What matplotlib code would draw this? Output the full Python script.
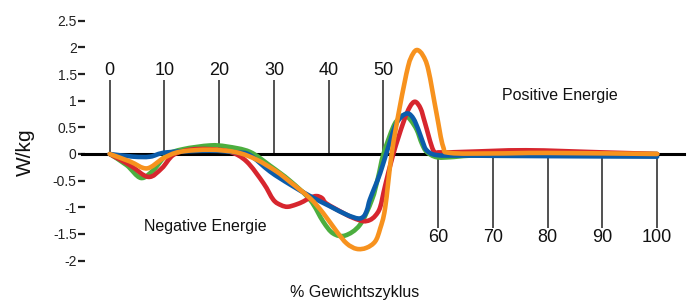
import matplotlib
matplotlib.use("Agg")
import matplotlib.pyplot as plt
import numpy as np
from matplotlib.path import Path
from matplotlib.patches import PathPatch

# curves (% of cycle, W/kg)
x_green = [0, 3.1, 5.7, 8.0, 10.4, 13.4, 18.3, 21.4, 25.6, 29.3, 32.9, 36.6, 39.0, 40.8, 43.0, 45.7,
           47.9, 49.0, 50.0, 51.8, 52.8, 53.9, 55.0, 56.1, 57.0, 57.9, 59.7, 62.2, 66, 75, 100]
y_green = [0, -0.21, -0.45, -0.30, -0.02, 0.09, 0.16, 0.14, 0.04, -0.22, -0.50, -0.86, -1.27, -1.49, -1.53, -1.33,
           -0.86, -0.45, 0.0, 0.51, 0.66, 0.73, 0.63, 0.45, 0.20, 0.04, -0.06, -0.06, -0.03, 0.0, 0.0]

x_red = [0, 3.7, 7.05, 9.5, 11.6, 14.7, 18.3, 22.0, 25.0, 28.1, 29.9, 31.3, 32.5, 34.0, 35.4, 36.6, 37.8, 38.8,
         39.6, 42.7, 44.5, 46.3, 47.5, 48.5, 49.4, 50.3, 51.8, 53.6, 54.8, 55.8, 56.8, 57.6, 59.1, 60.3, 65, 76, 90, 100]
y_red = [0, -0.21, -0.43, -0.27, -0.02, 0.08, 0.09, 0.04, -0.14, -0.55, -0.86, -0.96, -0.99, -0.95, -0.89, -0.82, -0.79, -0.83,
         -0.93, -1.11, -1.20, -1.26, -1.24, -1.16, -1.0, -0.6, 0.0, 0.58, 0.88, 0.98, 0.85, 0.58, 0.07, 0.03, 0.04, 0.07, 0.03, 0.0]

x_blue = [0, 4.3, 7.4, 10.4, 18.3, 23.2, 25.6, 29.3, 32.9, 36.6, 40.2, 43.3, 45.4, 46.4, 47.0, 47.5, 48.5, 49.4,
          50.5, 52.1, 53.3, 54.5, 55.5, 56.4, 57.2, 57.9, 59.7, 65, 80, 100]
y_blue = [0, -0.05, -0.05, 0.03, 0.06, 0.03, -0.02, -0.33, -0.57, -0.79, -0.98, -1.14, -1.21, -1.17, -1.05, -0.86, -0.6, -0.36,
          0.0, 0.51, 0.70, 0.76, 0.66, 0.45, 0.22, 0.07, -0.02, -0.03, -0.04, -0.05]

x_orange = [0, 3.7, 6.8, 9.8, 12.8, 18.3, 23.2, 26.9, 30.5, 32.9, 36.6, 39.0, 41.5, 43.3, 45.1, 46.9, 48.5, 49.4,
            50.3, 51.5, 53.0, 54.5, 55.4, 56.2, 57.2, 58.2, 59.7, 60.9, 62.2, 70, 80, 100]
y_orange = [0, -0.14, -0.27, -0.08, 0.04, 0.08, 0.03, -0.11, -0.33, -0.52, -0.83, -1.11, -1.46, -1.68, -1.78, -1.76, -1.64, -1.4,
            -1.02, 0.0, 0.89, 1.64, 1.88, 1.95, 1.85, 1.58, 0.76, 0.14, 0.02, 0.01, 0.02, 0.0]

y_ticks = [2.5, 2, 1.5, 1, 0.5, 0, -0.5, -1, -1.5, -2]
y_ticklabels = ["2.5", "2", "1.5", "1", "0.5", "0", "-0.5", "-1", "-1.5", "-2"]
top_ticks = [0, 10, 20, 30, 40, 50]
bottom_ticks = [60, 70, 80, 90, 100]

plt.rcParams["font.family"] = ["Liberation Sans", "DejaVu Sans"]


def smooth_curve(ax, xs, ys, color, z):
    # bezier path through the read points (catmull-rom handles)
    p = np.column_stack([xs, ys])
    n = len(p)
    verts = [p[0]]
    codes = [Path.MOVETO]
    for i in range(n - 1):
        p0 = p[i - 1] if i > 0 else p[i]
        p3 = p[i + 2] if i + 2 < n else p[i + 1]
        verts += [p[i] + (p[i + 1] - p0) / 6, p[i + 1] - (p3 - p[i]) / 6, p[i + 1]]
        codes += [Path.CURVE4] * 3
    ax.add_patch(PathPatch(Path(verts, codes), fill=False, edgecolor=color, lw=3.3,
                           capstyle="round", joinstyle="round", zorder=z))


fig = plt.figure(figsize=(6.88, 3.02), dpi=100)
ax = fig.add_axes([85 / 688, 0, 1 - 85 / 688, 1])
ax.set_xlim(-4.51, 105.63)
ax.set_ylim(-2.777, 2.889)
for s in ax.spines.values():
    s.set_visible(False)
ax.set_xticks([])
ax.set_yticks(y_ticks)
ax.set_yticklabels(y_ticklabels, fontsize=10, color="#222222")
ax.tick_params(axis="y", length=5, width=1.6, pad=1, color="#222222")

# zero line and vertical ticks
ax.plot([-5.06, 104.9], [0, 0], color="black", lw=2.2, clip_on=False, zorder=2)
ax.vlines(top_ticks, 0, 1.39, color="#333333", lw=1.2, zorder=1)
ax.vlines(bottom_ticks, -1.39, 0, color="#333333", lw=1.2, zorder=1)
for t in top_ticks:
    ax.text(t, 1.56, str(t), ha="center", va="center", fontsize=13, color="#111111")
for t in bottom_ticks:
    ax.text(t, -1.56, str(t), ha="center", va="center", fontsize=13, color="#111111")

smooth_curve(ax, x_green, y_green, "#4cae3f", 3)
smooth_curve(ax, x_red, y_red, "#d7262e", 4)
smooth_curve(ax, x_blue, y_blue, "#0b5cab", 5)
smooth_curve(ax, x_orange, y_orange, "#f7921e", 6)

ax.text(17.4, -1.36, "Negative Energie", ha="center", va="center", fontsize=11.5, color="#111111")
ax.text(82.2, 1.1, "Positive Energie", ha="center", va="center", fontsize=11.5, color="#111111")

fig.text(25 / 688, 1 - 152 / 302, "W/kg", rotation=90, ha="center", va="center", fontsize=15, color="#111111")
fig.text(355 / 688, 1 - 293 / 302, "% Gewichtszyklus", ha="center", va="center", fontsize=11.5, color="#111111")

fig.savefig("out.png", dpi=100)
